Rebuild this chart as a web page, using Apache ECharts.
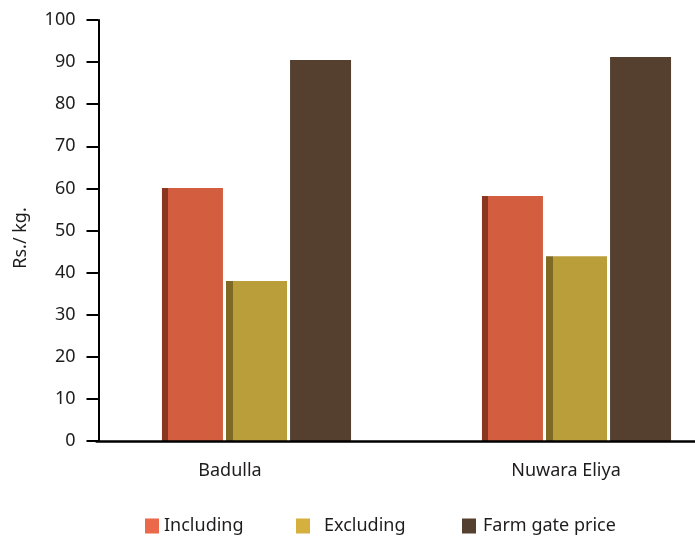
<!DOCTYPE html>
<html>
<head>
<meta charset="utf-8">
<script src="https://cdn.jsdelivr.net/npm/echarts@6/dist/echarts.min.js"></script>
<style>
html,body{margin:0;padding:0;background:#fff;}
#chart{width:695px;height:536px;}
</style>
</head>
<body>
<div id="chart"></div>
<script>
const categories = ['Badulla', 'Nuwara Eliya'];
const seriesNames = ['Including', 'Excluding', 'Farm gate price'];
const including = [60.1, 58.2];
const excluding = [38.0, 43.9];
const farmGate = [90.5, 91.2];
const yTicks = [0, 10, 20, 30, 40, 50, 60, 70, 80, 90, 100];

const FONT = '"Noto Sans", sans-serif';
const TXT = '#1f1c1d';

function edged(dark, main, stop) {
  return new echarts.graphic.LinearGradient(0, 0, 1, 0, [
    {offset: 0, color: dark},
    {offset: stop, color: dark},
    {offset: stop, color: main},
    {offset: 1, color: main}
  ]);
}

const chart = echarts.init(document.getElementById('chart'), null, {renderer: 'canvas'});

const legendColors = ['#ec684b', '#d5b03f', '#55402f'];
const legendLefts = [145, 296, 462];
const legendPad = [0, 9, 2];

const legends = seriesNames.map((n, i) => ({
  left: legendLefts[i],
  top: 517,
  padding: 0,
  itemWidth: 14,
  itemHeight: 15,
  icon: 'rect',
  selectedMode: false,
  data: [{name: n, itemStyle: {color: legendColors[i]}}],
  formatter: function (name) { return '{t|' + name + '}'; },
  textStyle: {
    fontFamily: FONT, fontSize: 18, color: TXT,
    rich: {t: {fontFamily: FONT, fontSize: 18, color: TXT, padding: [0, 0, 0, legendPad[i]]}}
  }
}));

const option = {
  animation: false,
  backgroundColor: '#fff',
  legend: legends,
  grid: {left: 96.5, top: 20, width: 640, bottom: 95, containLabel: false, outerBoundsMode: 'none'},
  xAxis: {
    type: 'category',
    data: categories,
    z: 5,
    axisLine: {lineStyle: {color: '#000', width: 2.5}},
    axisTick: {show: false},
    axisLabel: {
      margin: 21,
      fontFamily: FONT, fontSize: 18, color: TXT,
      formatter: function (v, i) { return (i === 0 ? '{a|' : '{b|') + v + '}'; },
      rich: {
        a: {fontFamily: FONT, fontSize: 18, color: TXT, padding: [0, 53, 0, 0]},
        b: {fontFamily: FONT, fontSize: 18, color: TXT, padding: [0, 21, 0, 0]}
      }
    }
  },
  yAxis: {
    type: 'value',
    min: yTicks[0],
    max: yTicks[yTicks.length - 1],
    interval: 10,
    offset: -2,
    name: 'Rs./ kg.',
    nameLocation: 'middle',
    nameGap: 69,
    nameTextStyle: {fontFamily: FONT, fontSize: 18, color: TXT, padding: [0, 15, 0, 0]},
    axisLine: {show: true, lineStyle: {color: '#000', width: 2}},
    axisTick: {show: true, length: 12, lineStyle: {color: '#000', width: 2}},
    splitLine: {show: false},
    axisLabel: {margin: 23, fontFamily: FONT, fontSize: 18, color: TXT}
  },
  series: [
    {
      name: seriesNames[0], type: 'bar', data: including,
      barWidth: 61, barGap: '5%',
      itemStyle: {color: edged('#8a3722', '#d35d3f', 0.1)}
    },
    {
      name: seriesNames[1], type: 'bar', data: excluding,
      barWidth: 61, barGap: '5%',
      itemStyle: {color: edged('#7e6a22', '#ba9e39', 0.11)}
    },
    {
      name: seriesNames[2], type: 'bar', data: farmGate,
      barWidth: 61, barGap: '5%',
      itemStyle: {color: '#554030'}
    }
  ]
};
chart.setOption(option);
</script>
</body>
</html>
